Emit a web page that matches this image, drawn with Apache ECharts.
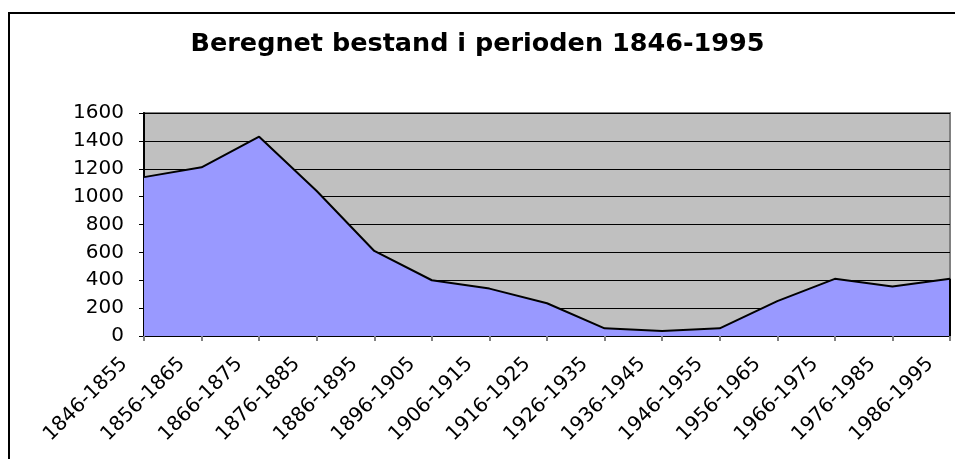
<!DOCTYPE html>
<html>
<head>
<meta charset="utf-8">
<script src="https://cdn.jsdelivr.net/npm/echarts@6/dist/echarts.min.js"></script>
<style>
  html, body { margin: 0; padding: 0; background: #fff; }
  #chart { width: 955px; height: 459px; }
</style>
</head>
<body>
<div id="chart"></div>
<script>
var periods = ['1846-1855', '1856-1865', '1866-1875', '1876-1885', '1886-1895',
	'1896-1905', '1906-1915', '1916-1925', '1926-1935', '1936-1945',
	'1946-1955', '1956-1965', '1966-1975', '1976-1985', '1986-1995'];
var bestand = [1140, 1210, 1430, 1040, 610, 400, 340, 235, 55, 35, 55, 250, 410, 355, 410];
var yTicks = { min: 0, max: 1600, step: 200 };

var chart = echarts.init(document.getElementById('chart'));
var lastIdx = periods.length - 1;

var option = {
	animation: false,
	backgroundColor: '#fff',
	textStyle: { fontFamily: 'DejaVu Sans' },
	title: {
		text: 'Beregnet bestand i perioden 1846-1995',
		left: 'center',
		top: 26,
		textStyle: { fontFamily: 'DejaVu Sans', fontWeight: 'bold', fontSize: 25.5, color: '#000' }
	},
	// frame round the whole chart
	graphic: [{
		type: 'rect',
		shape: { x: 9, y: 13, width: 1000, height: 500 },
		style: { fill: 'none', stroke: '#000', lineWidth: 2 },
		silent: true
	}],
	grid: {
		left: 144,
		right: 5,
		top: 113,
		bottom: 123,
		show: true,
		backgroundColor: '#C0C0C0',
		borderColor: '#808080',
		borderWidth: 2
	},
	xAxis: {
		type: 'category',
		data: periods,
		boundaryGap: false,
		axisLine: { lineStyle: { color: '#000', width: 2 } },
		axisTick: { show: true, length: 5, lineStyle: { color: '#808080', width: 2 } },
		axisLabel: {
			rotate: 45,
			interval: 0,
			margin: 5,
			padding: [0, 28, 0, 0],
			fontSize: 20,
			color: '#000',
			fontFamily: 'DejaVu Sans'
		},
		splitLine: { show: false }
	},
	yAxis: {
		type: 'value',
		min: yTicks.min,
		max: yTicks.max,
		interval: yTicks.step,
		axisLine: { show: true, lineStyle: { color: '#000', width: 2 } },
		axisTick: { show: true, length: 5, lineStyle: { color: '#000', width: 1 } },
		axisLabel: {
			margin: 20,
			fontSize: 20,
			color: '#000',
			fontFamily: 'DejaVu Sans',
			formatter: function (v) { return String(v); }
		},
		splitLine: { show: true, lineStyle: { color: '#000', width: 1 } }
	},
	series: [{
		name: 'Bestand',
		type: 'line',
		data: bestand,
		symbol: 'none',
		lineStyle: { color: '#000', width: 2 },
		areaStyle: { color: '#9999FF', opacity: 1 },
		// closing edge of the area at the last period
		markLine: {
			silent: true,
			symbol: 'none',
			label: { show: false },
			lineStyle: { color: '#000', width: 2, type: 'solid' },
			data: [[
				{ coord: [lastIdx, 0] },
				{ coord: [lastIdx, bestand[lastIdx]] }
			]]
		}
	}]
};

chart.setOption(option);
</script>
</body>
</html>
